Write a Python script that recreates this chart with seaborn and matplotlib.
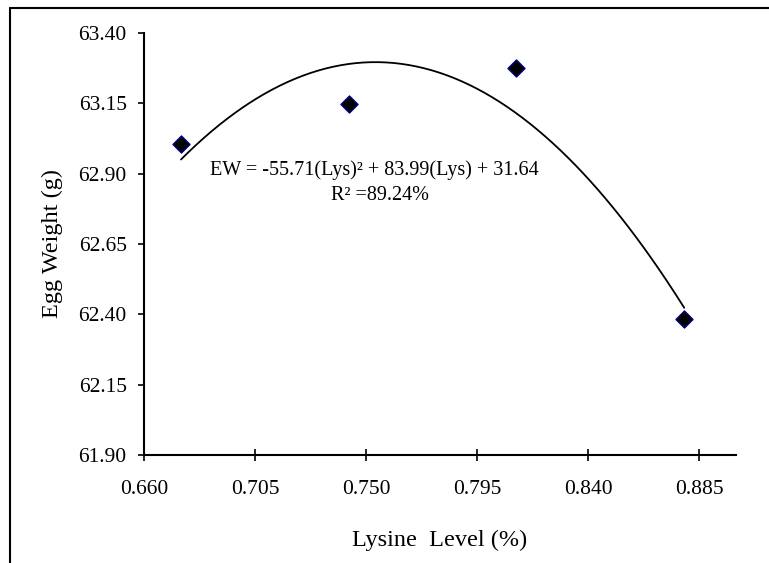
import numpy as np
import pandas as pd
import seaborn as sns
import matplotlib.pyplot as plt
from matplotlib.lines import Line2D

# lysine levels (%) and mean egg weight (g)
lysine = [0.675, 0.743, 0.811, 0.879]
egg_weight = [63.005, 63.147, 63.275, 62.383]

# quadratic fit reported on the chart
coef = [-55.71, 83.99, 31.64]

xticks = [0.660, 0.705, 0.750, 0.795, 0.840, 0.885]
yticks = [61.90, 62.15, 62.40, 62.65, 62.90, 63.15, 63.40]

sns.set_style('ticks')
plt.rcParams['font.family'] = ['Liberation Serif', 'DejaVu Serif']
plt.rcParams['text.color'] = 'black'
plt.rcParams['axes.labelcolor'] = 'black'

df = pd.DataFrame({'Lys': lysine, 'EW': egg_weight})

fig = plt.figure(figsize=(7.69, 5.63), dpi=100)
ax = fig.add_axes([144/769, 1-455/563, (736-144)/769, (455-33)/563])

xs = np.linspace(min(lysine), max(lysine), 200)
ax.plot(xs, np.polyval(coef, xs), color='black', lw=1.3, zorder=2)

sns.scatterplot(data=df, x='Lys', y='EW', marker='D', s=75, color='black',
                edgecolor='#000080', linewidth=1.0, ax=ax, zorder=3)

ax.set_xlim(0.660, 0.900)
ax.set_ylim(61.90, 63.40)
ax.set_xticks(xticks)
ax.set_xticklabels(['%.3f' % v for v in xticks])
ax.set_yticks(yticks)
ax.set_yticklabels(['%.2f' % v for v in yticks])
sns.despine(ax=ax)
for s in ['left', 'bottom']:
    ax.spines[s].set_linewidth(1.5)
    ax.spines[s].set_color('black')
ax.tick_params(axis='x', direction='inout', length=8, width=1.2, labelsize=15.5, pad=14, colors='black')
ax.tick_params(axis='y', direction='out', length=4.5, width=1.2, labelsize=15.5, pad=8, colors='black')

ax.set_xlabel('Lysine  Level (%)', fontsize=17.5, labelpad=22)
ax.set_ylabel('Egg Weight (g)', fontsize=17.5, labelpad=11)

ax.text(0.7535, 62.913, 'EW = -55.71(Lys)² + 83.99(Lys) + 31.64', fontsize=14.5,
        ha='center', va='center')
ax.text(0.7555, 62.824, 'R² =89.24%', fontsize=14.5, ha='center', va='center')

# outer frame (left and top edges)
fig.add_artist(Line2D([10/769, 10/769], [0, 1-8/563], transform=fig.transFigure, color='black', lw=1.5))
fig.add_artist(Line2D([10/769, 1], [1-8/563, 1-8/563], transform=fig.transFigure, color='black', lw=1.5))

fig.savefig('out.png', dpi=100)
